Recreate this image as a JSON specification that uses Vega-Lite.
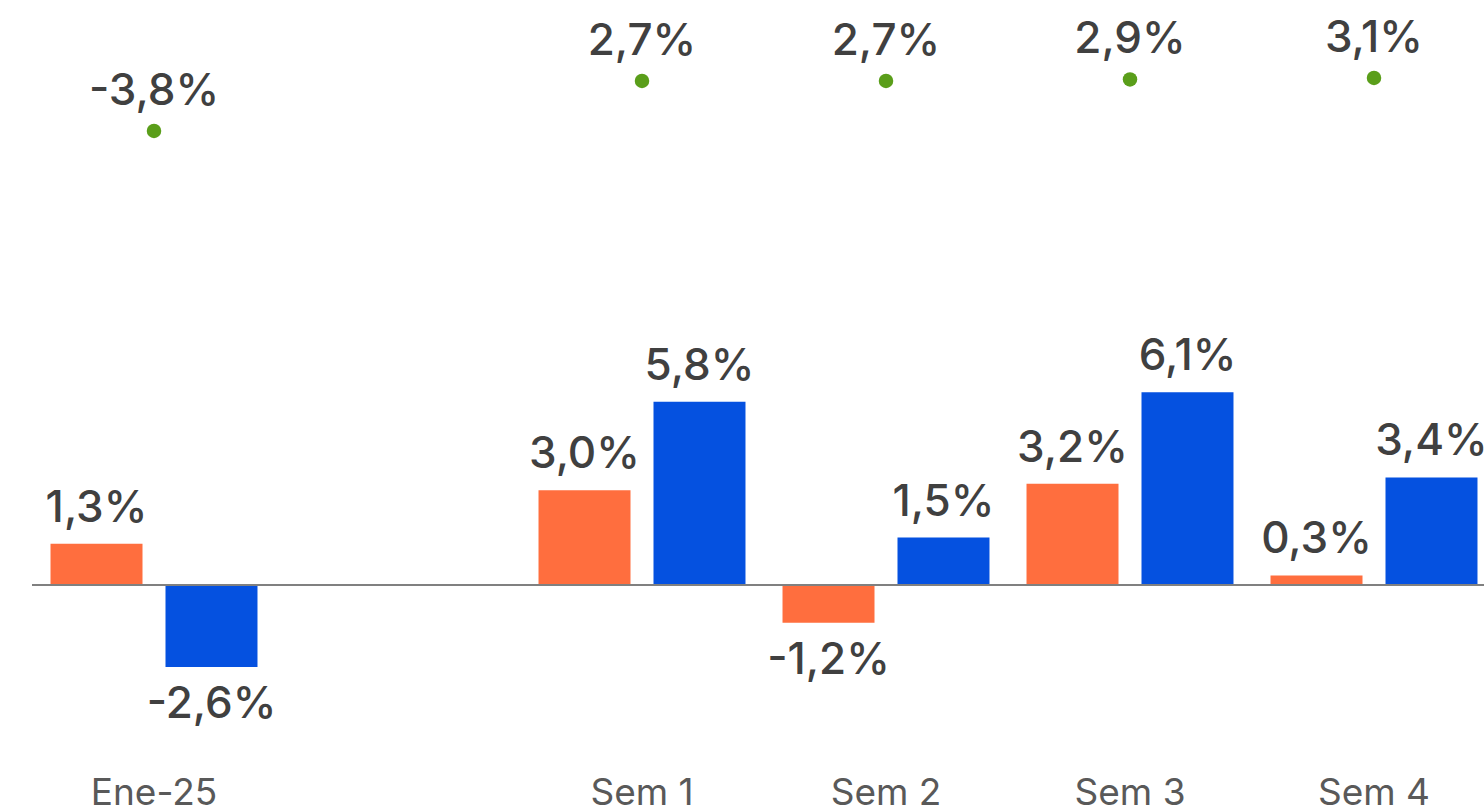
{
  "$schema": "https://vega.github.io/schema/vega-lite/v6.json",
  "autosize": {"type": "none"},
  "width": 1452,
  "height": 760,
  "padding": {"left": 32, "top": 0, "right": 0, "bottom": 50},
  "background": "#ffffff",
  "config": {
    "view": {"stroke": null},
    "font": "Inter",
    "axisX": {"domain": false, "ticks": false, "grid": false, "labelFontSize": 37, "labelColor": "#595959", "labelPadding": 44, "labelBaseline": "alphabetic", "labelAngle": 0, "labelFont": "Inter", "labelFontWeight": 400}
  },
  "datasets": {
    "bars": [
      {"cat": "Ene-25", "serie": "A", "value": 1.3},
      {"cat": "Ene-25", "serie": "B", "value": -2.6},
      {"cat": "Sem 1", "serie": "A", "value": 3.0},
      {"cat": "Sem 1", "serie": "B", "value": 5.8},
      {"cat": "Sem 2", "serie": "A", "value": -1.2},
      {"cat": "Sem 2", "serie": "B", "value": 1.5},
      {"cat": "Sem 3", "serie": "A", "value": 3.2},
      {"cat": "Sem 3", "serie": "B", "value": 6.1},
      {"cat": "Sem 4", "serie": "A", "value": 0.3},
      {"cat": "Sem 4", "serie": "B", "value": 3.4}
    ],
    "dots": [
      {"cat": "Ene-25", "tasa": -3.8},
      {"cat": "Sem 1", "tasa": 2.7},
      {"cat": "Sem 2", "tasa": 2.7},
      {"cat": "Sem 3", "tasa": 2.9},
      {"cat": "Sem 4", "tasa": 3.1}
    ]
  },
  "layer": [
    {
      "data": {"name": "bars"},
      "transform": [{"calculate": "replace(replace(format(datum.value, '.1f'), '.', ','), '\u2212', '-') + '%'", "as": "label"}],
      "encoding": {
        "y": {"field": "value", "type": "quantitative", "scale": {"domain": [-5.54, 18.51], "nice": false, "zero": false}, "axis": null}
      },
      "layer": [
        {
          "mark": {"type": "bar"},
          "encoding": {
            "x": {"field": "cat", "type": "nominal", "title": null, "scale": {"domain": ["Ene-25", " ", "Sem 1", "Sem 2", "Sem 3", "Sem 4"], "range": [0, 1464], "paddingInner": 0, "paddingOuter": 0}},
            "xOffset": {"field": "serie", "type": "nominal", "scale": {"domain": ["A", "B"], "paddingInner": 0.2, "paddingOuter": 0.161}},
            "color": {"field": "serie", "type": "nominal", "scale": {"domain": ["A", "B"], "range": ["#FF6E3E", "#0551E0"]}, "legend": null}
          }
        },
        {
          "transform": [{"filter": "datum.value >= 0"}],
          "mark": {"type": "text", "baseline": "alphabetic", "dy": -22, "fontSize": 44, "fontWeight": 500, "color": "#404040"},
          "encoding": {
            "x": {"field": "cat", "type": "nominal", "title": null},
            "xOffset": {"field": "serie", "type": "nominal"},
            "text": {"field": "label"}
          }
        },
        {
          "transform": [{"filter": "datum.value < 0"}],
          "mark": {"type": "text", "baseline": "alphabetic", "dy": 51, "fontSize": 44, "fontWeight": 500, "color": "#404040"},
          "encoding": {
            "x": {"field": "cat", "type": "nominal", "title": null},
            "xOffset": {"field": "serie", "type": "nominal"},
            "text": {"field": "label"}
          }
        },
        {
          "mark": {"type": "rule", "color": "#808080", "strokeWidth": 2},
          "encoding": {"y": {"datum": 0}}
        }
      ]
    },
    {
      "data": {"name": "dots"},
      "transform": [{"calculate": "replace(replace(format(datum.tasa, '.1f'), '.', ','), '\u2212', '-') + '%'", "as": "label"}],
      "encoding": {
        "x": {"field": "cat", "type": "nominal", "title": null},
        "y": {"field": "tasa", "type": "quantitative", "scale": {"domain": [-85.6, 13.23], "nice": false, "zero": false}, "axis": null}
      },
      "layer": [
        {"mark": {"type": "point", "filled": true, "opacity": 1, "size": 210, "color": "#5A9E1A"}},
        {
          "mark": {"type": "text", "baseline": "alphabetic", "dy": -26, "fontSize": 44, "fontWeight": 500, "color": "#404040"},
          "encoding": {"text": {"field": "label"}}
        }
      ]
    }
  ],
  "resolve": {"scale": {"y": "independent"}}
}
